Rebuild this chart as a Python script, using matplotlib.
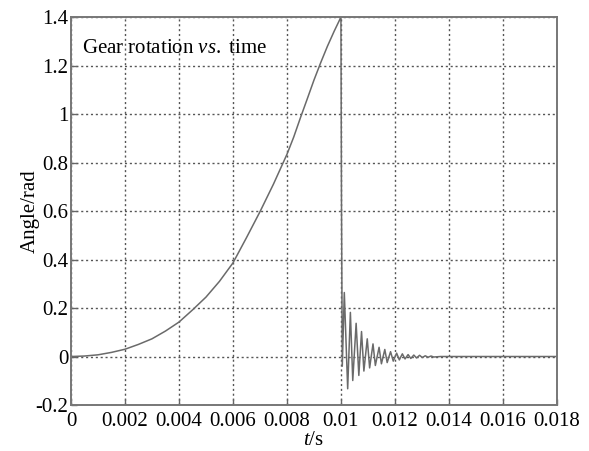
import numpy as np
import matplotlib
matplotlib.use('Agg')
import matplotlib.pyplot as plt

plt.rcParams['font.family'] = ['Liberation Serif', 'DejaVu Serif']
plt.rcParams['mathtext.fontset'] = 'custom'
plt.rcParams['mathtext.rm'] = 'Liberation Serif'
plt.rcParams['mathtext.it'] = 'Liberation Serif:italic'

# ── rising part ──
t_rise = [0.0, 0.0005, 0.001, 0.0015, 0.002, 0.0025, 0.003, 0.0035, 0.004,
          0.0045, 0.005, 0.0055, 0.006, 0.0065, 0.007, 0.0075, 0.008,
          0.00825, 0.0085, 0.00875, 0.009, 0.00925, 0.0095, 0.00975, 0.010]
a_rise = [0.0, 0.002, 0.007, 0.017, 0.030, 0.050, 0.073, 0.105, 0.142,
          0.192, 0.245, 0.310, 0.386, 0.490, 0.597, 0.711, 0.834,
          0.905, 0.985, 1.062, 1.140, 1.212, 1.280, 1.342, 1.400]

# ── drop + decaying oscillation ──
t_osc = [0.01002, 0.01005, 0.010125, 0.01025, 0.01035, 0.010438, 0.010563,
         0.010663, 0.010763, 0.010850, 0.010975, 0.011063, 0.011188,
         0.011275, 0.011413, 0.011500, 0.011625, 0.011713, 0.011838,
         0.011938, 0.012063, 0.012163, 0.012275, 0.012375, 0.012488,
         0.012588, 0.012700, 0.012800, 0.012913, 0.013013, 0.013125,
         0.013225, 0.013338, 0.013438, 0.01369, 0.018]
a_osc = [0.65, -0.04, 0.264, -0.133, 0.182, -0.099, 0.137,
         -0.078, 0.103, -0.060, 0.073, -0.047, 0.052,
         -0.037, 0.038, -0.030, 0.029, -0.025, 0.020,
         -0.019, 0.014, -0.014, 0.011, -0.010, 0.008,
         -0.008, 0.006, -0.006, 0.005, -0.004, 0.003,
         -0.003, 0.002, -0.002, 0.0, 0.0]

t = np.array(t_rise + t_osc)
angle = np.array(a_rise + a_osc)

fig = plt.figure(figsize=(5.89, 4.51), dpi=100)
ax = fig.add_axes([0.1205, 0.102, 0.825, 0.860])

ax.plot(t, angle, color='#6a6a6a', linewidth=1.1)

ax.set_xlim(0, 0.018)
ax.set_ylim(-0.2, 1.4)
ax.set_xticks(np.arange(0, 0.0181, 0.002))
ax.set_xticklabels(['0', '0.002', '0.004', '0.006', '0.008', '0.01',
                    '0.012', '0.014', '0.016', '0.018'])
ax.set_yticks(np.arange(-0.2, 1.41, 0.2))
ax.set_yticklabels(['-0.2', '0', '0.2', '0.4', '0.6', '0.8', '1', '1.2', '1.4'])

ax.grid(True, linestyle=(0, (1.5, 2)), color='#555555', linewidth=1.0)
ax.tick_params(direction='in', length=4, width=1, colors='#666666',
               labelcolor='black', labelsize=15)
ax.tick_params(axis='x', pad=5)
ax.tick_params(axis='y', pad=2)
for s in ax.spines.values():
    s.set_color('#777777')
    s.set_linewidth(1.4)

ax.set_xlabel('$t$/s', fontsize=15, labelpad=0)
ax.set_ylabel('Angle/rad', fontsize=15, labelpad=-3)

ax.text(0.022, 0.92, 'Gear rotation $vs.$ time', transform=ax.transAxes,
        fontsize=15, va='center', ha='left')

fig.savefig('out.png', dpi=100)
